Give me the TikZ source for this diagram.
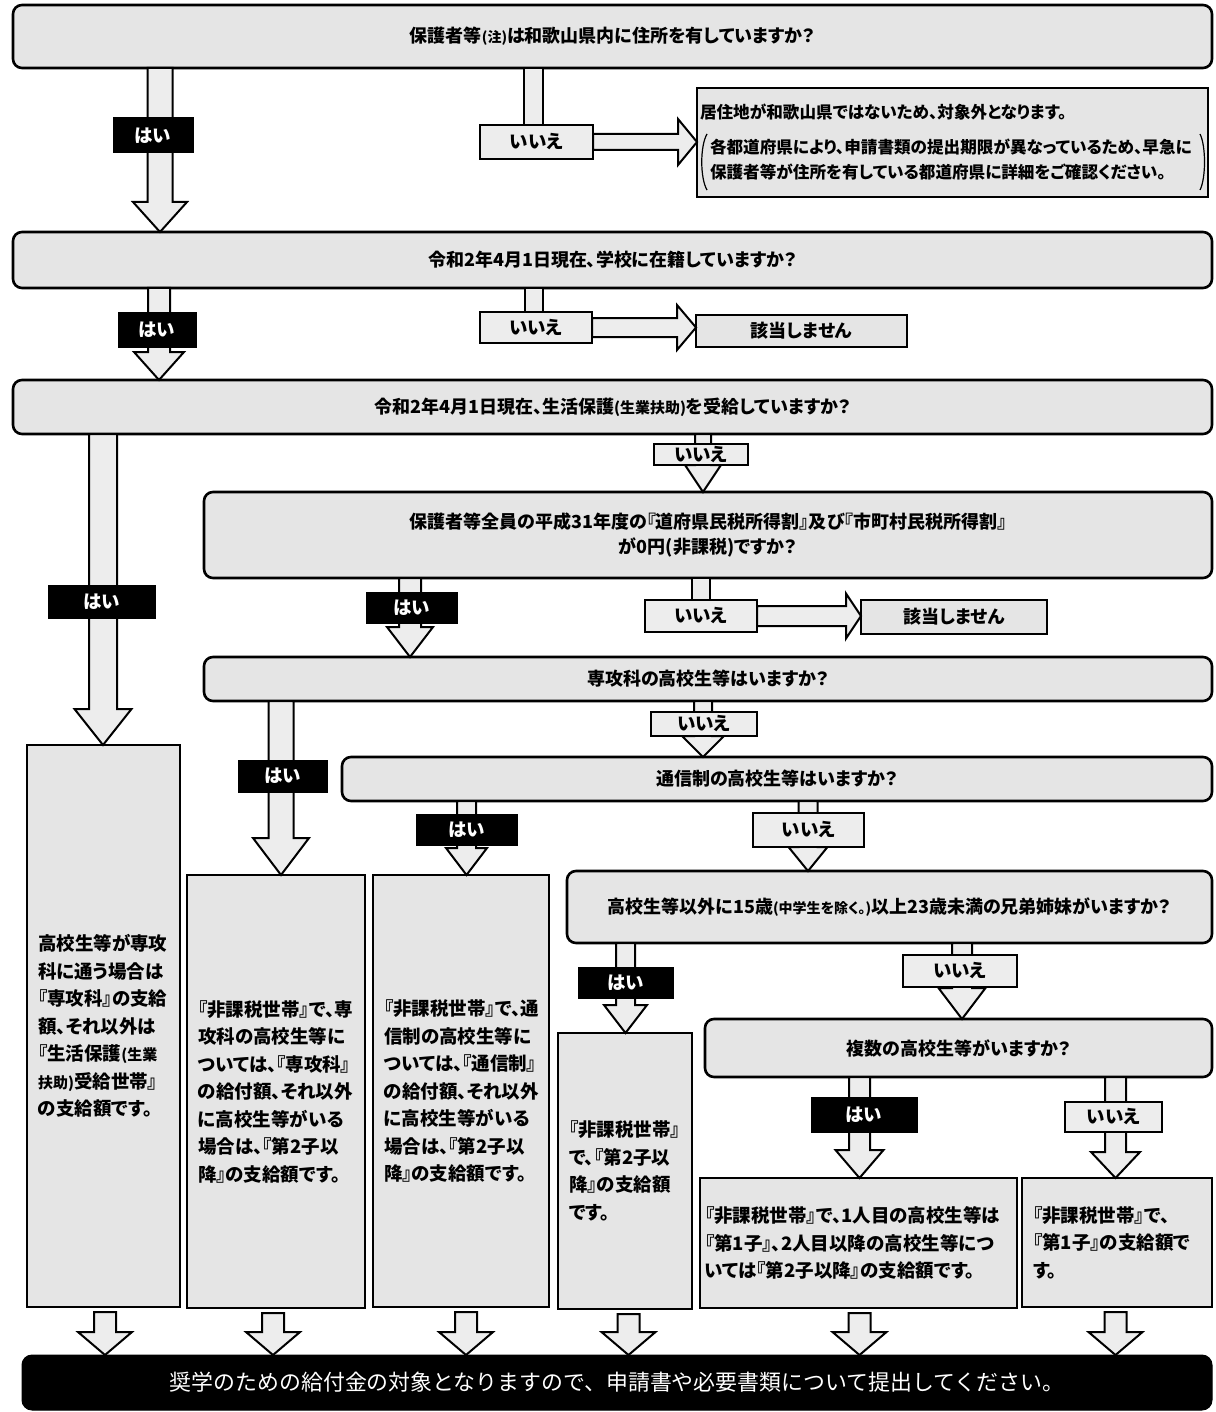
\documentclass[tikz,border=0pt]{standalone}
\usepackage{fontspec}
\setmainfont{Noto Sans CJK JP}[RawFeature=+palt]
\newfontfamily\jpwide{Noto Sans CJK JP}
\usetikzlibrary{calc}
\newcommand\sm[1]{{\fontsize{14}{16}\selectfont #1}}
\newcommand\smr[1]{{\fontsize{15}{17}\selectfont #1}}
\newcommand\bx[7][]{\node[#1, anchor=north west, minimum width={(#5-#3)*1pt}, minimum height={(#6-#4)*1pt}] (#2) at (#3,#4) {#7};}
% vertical block arrow: [gap], xc, from node, to node, shaft half width, head half width, head length
\newcommand\varr[7][0]{%
  \coordinate (vx) at (#2,0);
  \path (#3.south -| vx) coordinate (vA) (#4.north -| vx) coordinate (vB);
  \draw[blk] ([xshift=-#5pt,yshift=-#1pt]vA) -- ([xshift=#5pt,yshift=-#1pt]vA) -- ([xshift=#5pt,yshift=#7pt]vB) -- ([xshift=#6pt,yshift=#7pt]vB) -- (vB) -- ([xshift=-#6pt,yshift=#7pt]vB) -- ([xshift=-#5pt,yshift=#7pt]vB) -- cycle;}
% vertical stub: xc, from node, to node, half width
\newcommand\vstub[4]{%
  \coordinate (vx) at (#1,0);
  \path (#2.south -| vx) coordinate (vA) (#3.north -| vx) coordinate (vB);
  \draw[blk] ([xshift=-#4pt]vA) rectangle ([xshift=#4pt]vB);}
% horizontal block arrow: from node, to node, shaft half width, head half width, head length
\newcommand\harr[5]{%
  \path (#1.east) coordinate (hA) (#2.west |- #1.east) coordinate (hB);
  \draw[blk] ([yshift=#3pt]hA) -- ([xshift=-#5pt,yshift=#3pt]hB) -- ([xshift=-#5pt,yshift=#4pt]hB) -- (hB) -- ([xshift=-#5pt,yshift=-#4pt]hB) -- ([xshift=-#5pt,yshift=-#3pt]hB) -- ([yshift=-#3pt]hA) -- cycle;}
\begin{document}
\begin{tikzpicture}[x=1pt,y=-1pt,
  qbox/.style={draw, line width=2.6pt, rounded corners=9pt, fill=black!10, inner sep=0pt, outer sep=0pt, align=center, font=\bfseries\fontsize{18}{25}\selectfont},
  rbox/.style={draw, line width=2.6pt, fill=black!10, inner ysep=0pt, inner xsep=11pt, outer sep=0pt, align=left, font=\bfseries\fontsize{18.5}{27.5}\selectfont},
  endbox/.style={draw, line width=2.6pt, fill=black!10, inner sep=0pt, outer sep=0pt, align=center, font=\bfseries\fontsize{18}{20}\selectfont},
  yeslbl/.style={draw, line width=1pt, fill=black, text=white, inner sep=0pt, outer sep=0pt, font=\bfseries\fontsize{18.5}{20}\selectfont},
  nolbl/.style={draw, line width=2.4pt, fill=black!7, inner sep=0pt, outer sep=0pt, font=\bfseries\fontsize{18.5}{20}\selectfont},
  blk/.style={draw, line width=2pt, fill=black!7, line join=miter},
  finbox/.style={draw, line width=1pt, rounded corners=10pt, fill=black, text=white, inner sep=0pt, outer sep=0pt, font=\jpwide\fontsize{21.9}{24}\selectfont}
]
\useasboundingbox (0,0) rectangle (1215,1412);
\fill[white] (0,0) rectangle (1215,1412);

% question boxes
\bx[qbox]{q1}{13}{5}{1212}{68}{保護者等\sm{(注)}は和歌山県内に住所を有していますか？}
\bx[qbox]{q2}{13}{232}{1212}{288}{令和2年4月1日現在、学校に在籍していますか？}
\bx[qbox]{q3}{13}{380}{1212}{434}{令和2年4月1日現在、生活保護\smr{(生業扶助)}を受給していますか？}
\bx[qbox]{q4}{204}{492}{1212}{578}{保護者等全員の平成31年度の『道府県民税所得割』及び『市町村民税所得割』\\が0円(非課税)ですか？}
\bx[qbox]{q5}{204}{657}{1212}{701}{専攻科の高校生等はいますか？}
\bx[qbox]{q6}{342}{757}{1212}{801}{通信制の高校生等はいますか？}
\bx[qbox]{q7}{567}{871}{1212}{943}{高校生等以外に15歳\sm{(中学生を除く。)}以上23歳未満の兄弟姉妹がいますか？}
\bx[qbox]{q8}{705}{1019}{1212}{1077}{複数の高校生等がいますか？}

% dead-end boxes
\bx[rbox, inner xsep=3pt, text width=505pt, font=\bfseries\fontsize{16.6}{25}\selectfont]{r1}{697}{88}{1208}{197}{居住地が和歌山県ではないため、対象外となります。\\[10pt]\hspace*{10pt}各都道府県により、申請書類の提出期限が異なっているため、早急に\\\hspace*{10pt}保護者等が住所を有している都道府県に詳細をご確認ください。}
\draw[line width=1.2pt] (707,134) .. controls (700,146) and (700,178) .. (707,190);
\draw[line width=1.2pt] (1200,134) .. controls (1206,146) and (1206,178) .. (1200,190);
\bx[endbox]{r2}{696}{315}{907}{347}{該当しません}
\bx[endbox]{r4}{861}{600}{1047}{634}{該当しません}

% result boxes
\bx[rbox, text width=131pt]{ra}{27}{745}{180}{1307}{高校生等が専攻\\科に通う場合は\\『専攻科』の支給\\額、それ以外は\\『生活保護\smr{(生業}\\\smr{扶助)}受給世帯』\\の支給額です。}
\bx[rbox, text width=156pt]{rb}{187}{875}{365}{1308}{『非課税世帯』で、専\\攻科の高校生等に\\ついては、『専攻科』\\の給付額、それ以外\\に高校生等がいる\\場合は、『第2子以\\降』の支給額です。}
\bx[rbox, text width=154pt]{rc}{373}{875}{549}{1307}{『非課税世帯』で、通\\信制の高校生等に\\ついては、『通信制』\\の給付額、それ以外\\に高校生等がいる\\場合は、『第2子以\\降』の支給額です。}
\bx[rbox, text width=112pt]{rd}{558}{1033}{692}{1309}{『非課税世帯』\\で、『第2子以\\降』の支給額\\です。}
\bx[rbox, inner xsep=5pt, text width=307pt]{re}{700}{1178}{1017}{1308}{『非課税世帯』で、1人目の高校生等は\\『第1子』、2人目以降の高校生等につ\\いては『第2子以降』の支給額です。}
\bx[rbox, text width=168pt]{rf}{1022}{1178}{1212}{1307}{『非課税世帯』で、\\『第1子』の支給額で\\す。}

% final box
\bx[finbox]{fin}{22}{1355}{1212}{1410}{奨学のための給付金の対象となりますので、申請書や必要書類について提出してください。}

% vertical block arrows (drawn under the labels)
\varr{160}{q1}{q2}{12.5}{27}{30}
\varr{159}{q2}{q3}{11}{25}{28}
\varr{103}{q3}{ra}{14}{28.5}{36}
\varr{703}{q3}{q4}{8}{18}{27}
\varr{410}{q4}{q5}{11}{23}{30}
\varr{281}{q5}{rb}{12.5}{28}{37}
\varr{703}{q5}{q6}{9}{21}{21}
\varr{466.5}{q6}{rc}{9.5}{20.5}{27}
\varr{808}{q6}{q7}{9.5}{19.5}{24}
\varr{625.5}{q7}{rd}{9.5}{21.5}{28}
\varr{962}{q7}{q8}{10}{23.5}{31}
\varr{859.5}{q8}{re}{10.5}{24}{28}
\varr{1115.5}{q8}{rf}{10.5}{24.5}{26}
\varr[5]{105}{ra}{fin}{11}{27}{23}
\varr[5]{273}{rb}{fin}{11}{27}{23}
\varr[5]{466}{rc}{fin}{11}{27}{23}
\varr[5]{628.5}{rd}{fin}{11}{27}{23}
\varr[5]{859.5}{re}{fin}{11}{27}{23}
\varr[5]{1115.5}{rf}{fin}{11}{27}{23}

% labels
\bx[yeslbl]{l1y}{113}{118}{193}{153}{はい}
\bx[nolbl]{l1n}{480}{125}{593}{159}{いいえ}
\bx[yeslbl]{l2y}{118}{312}{196}{347}{はい}
\bx[nolbl]{l2n}{480}{312}{592}{343}{いいえ}
\bx[yeslbl]{l3y}{48}{585}{155}{618}{はい}
\bx[nolbl]{l3n}{654}{444}{748}{465}{いいえ}
\bx[yeslbl]{l4y}{366}{592}{457}{623}{はい}
\bx[nolbl]{l4n}{645}{600}{757}{632}{いいえ}
\bx[yeslbl]{l5y}{238}{760}{327}{792}{はい}
\bx[nolbl]{l5n}{651}{712}{757}{736}{いいえ}
\bx[yeslbl]{l6y}{416}{814}{517}{845}{はい}
\bx[nolbl]{l6n}{753}{813}{864}{847}{いいえ}
\bx[yeslbl]{l7y}{578}{967}{673}{998}{はい}
\bx[nolbl]{l7n}{903}{955}{1017}{987}{いいえ}
\bx[yeslbl]{l8y}{811}{1097}{917}{1132}{はい}
\bx[nolbl]{l8n}{1065}{1102}{1162}{1132}{いいえ}

% "no" stubs and side arrows
\vstub{533.5}{q1}{l1n}{9.5}
\harr{l1n}{r1}{8}{23}{19}
\vstub{534}{q2}{l2n}{9}
\harr{l2n}{r2}{9.5}{22.5}{19}
\vstub{701}{q4}{l4n}{9}
\harr{l4n}{r4}{10}{22.5}{15}
\end{tikzpicture}
\end{document}
